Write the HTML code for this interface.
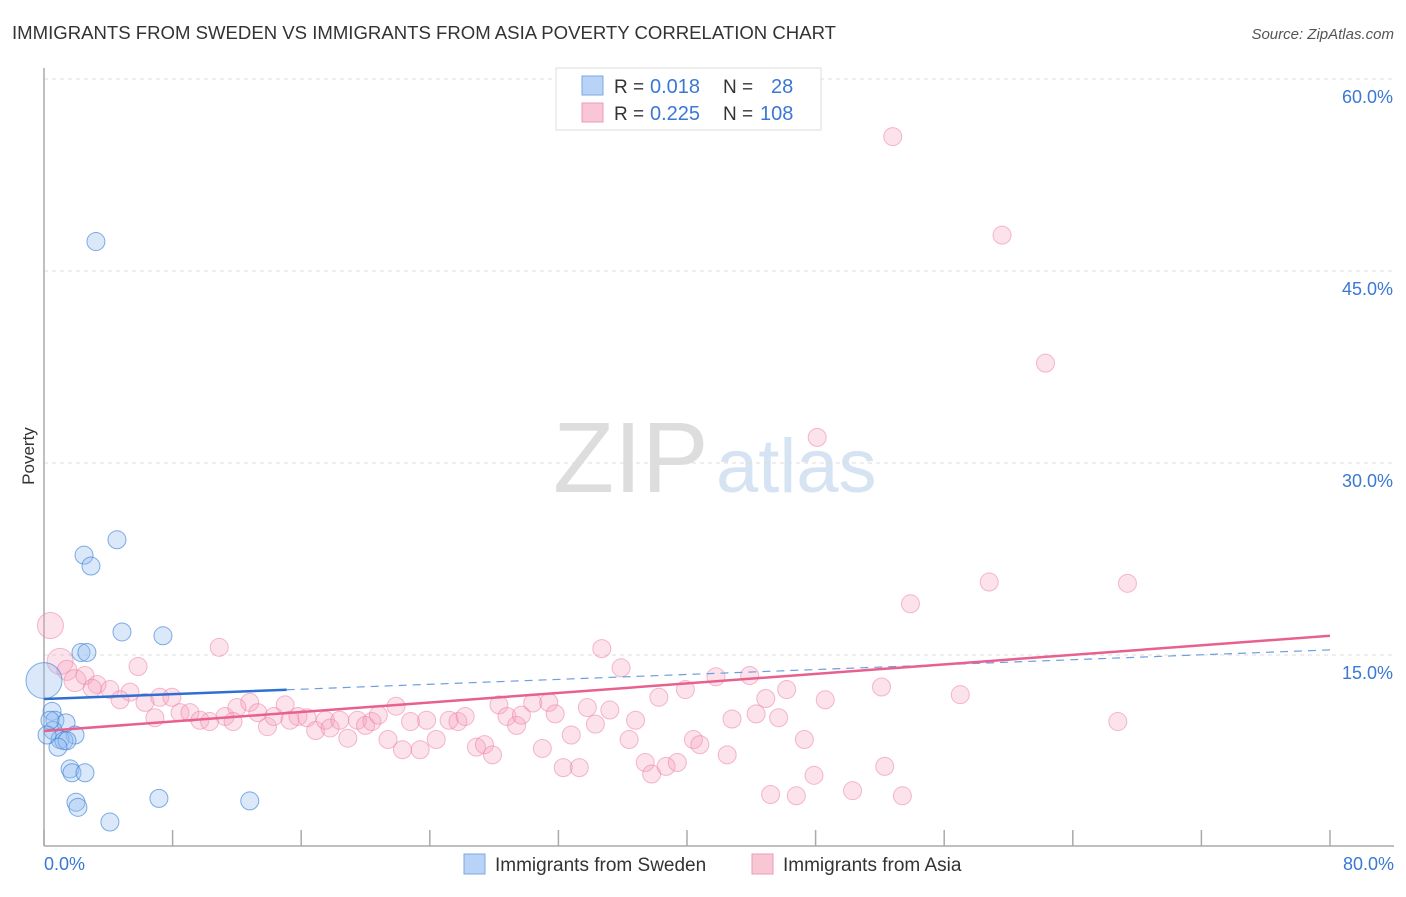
<!DOCTYPE html>
<html><head><meta charset="utf-8"><style>
body{margin:0;background:#fff;font-family:"Liberation Sans",sans-serif;}
svg text{font-family:"Liberation Sans",sans-serif;}
</style></head><body>
<svg id="chart" width="1406" height="892" viewBox="0 0 1406 892">
<text x="12" y="39" font-size="18" fill="#333" textLength="824" lengthAdjust="spacingAndGlyphs">IMMIGRANTS FROM SWEDEN VS IMMIGRANTS FROM ASIA POVERTY CORRELATION CHART</text>
<text x="1394" y="39" font-size="15" fill="#555" font-style="italic" text-anchor="end">Source: ZipAtlas.com</text>
<g>
<text x="553" y="492" font-size="100" fill="#ddd" font-family="Liberation Serif, serif">ZIP</text>
<text x="716" y="492" font-size="76" fill="#d5e3f3">atlas</text>
</g>
<g id="grid"></g>
<g id="axes"></g>
<g id="pts"></g>
<g id="trends"></g>
<text x="34" y="456" font-size="17" fill="#333" transform="rotate(-90 34 456)" text-anchor="middle">Poverty</text>
<text x="44" y="870" font-size="18" fill="#3a78d4">0.0%</text>
<text x="1394" y="870" font-size="18" fill="#3a78d4" text-anchor="end">80.0%</text>
<g>
<rect x="556" y="68" width="265" height="62" fill="#fff" stroke="#ddd"/>
<rect x="582" y="76" width="21" height="19" fill="#b8d3f5" stroke="#7aa8e6"/>
<rect x="582" y="103" width="21" height="19" fill="#f9c6d6" stroke="#ee9ab5"/>
<text x="614" y="93" font-size="19" fill="#333">R = <tspan x="650" fill="#3a78d4" font-size="20">0.018</tspan><tspan x="723">N = </tspan><tspan x="771" fill="#3a78d4" font-size="20">28</tspan></text>
<text x="614" y="120" font-size="19" fill="#333">R = <tspan x="650" fill="#3a78d4" font-size="20">0.225</tspan><tspan x="723">N = </tspan><tspan x="760" fill="#3a78d4" font-size="20">108</tspan></text>
</g>
<g>
<rect x="464" y="854" width="21" height="20" fill="#b8d3f5" stroke="#7aa8e6"/>
<text x="495" y="871" font-size="19" fill="#333">Immigrants from Sweden</text>
<rect x="752" y="854" width="21" height="20" fill="#f9c6d6" stroke="#ee9ab5"/>
<text x="783" y="871" font-size="19" fill="#333">Immigrants from Asia</text>
</g>
</svg>
<script>
const yTicks=[15,30,45,60];
const yTickLabels=["15.0%","30.0%","45.0%","60.0%"];
const xTicks=[0,8,16,24,32,40,48,56,64,72,80];
const swedenX=[3.23,4.54,2.49,2.92,4.85,7.40,2.30,2.67,0.0,0.5,0.68,1.37,0.56,1.93,1.0,1.24,1.43,0.87,1.62,1.74,2.55,1.99,2.11,7.15,12.8,4.1,0.37,0.19];
const swedenY=[47.3,24.0,22.8,21.95,16.8,16.5,15.2,15.2,13.0,10.6,9.9,9.7,9.1,8.75,8.4,8.3,8.3,7.8,6.1,5.8,5.8,3.5,3.1,3.8,3.6,1.95,9.9,8.75];
const swedenR=[9,9,9,9,9,9,9,9,18,9,9,9,9,9,9,9,9,9,9,9,9,9,9,9,9,9,9,9];
const asiaX=[52.8,59.6,62.3,48.1,58.8,67.4,53.9,0.4,34.7,10.9,5.85,1.0,1.43,1.93,2.55,3.3,4.1,3.0,5.35,4.73,6.28,7.2,7.96,6.9,8.46,9.08,9.7,10.3,11.26,12.0,11.76,12.8,13.3,13.9,14.3,15.0,15.3,15.8,16.36,16.9,17.5,17.8,18.4,18.9,19.5,20.0,20.4,20.8,21.4,21.9,22.3,22.8,23.4,23.8,24.4,25.2,25.75,26.2,26.9,27.4,27.9,28.3,28.8,29.4,29.7,30.4,31.0,31.4,31.8,32.3,32.8,33.3,33.8,34.3,35.2,35.9,36.4,36.8,37.4,37.8,38.25,38.7,39.4,39.9,40.4,40.8,41.8,42.5,42.8,43.9,44.3,44.9,45.2,45.7,46.2,46.8,47.3,47.9,48.6,50.3,52.1,52.3,53.4,57.0,66.8];
const asiaY=[55.5,47.8,37.8,32.0,20.7,20.6,19.0,17.3,15.5,15.6,14.1,14.5,13.8,13.0,13.4,12.7,12.3,12.4,12.1,11.5,11.3,11.7,11.7,10.1,10.5,10.5,9.9,9.8,10.2,10.9,9.8,11.3,10.5,9.4,10.2,11.1,9.9,10.2,10.1,9.1,9.9,9.3,9.9,8.5,9.9,9.5,9.8,10.3,8.4,11.0,7.6,9.8,7.6,9.9,8.4,9.9,9.8,10.2,7.8,8.0,7.2,11.1,10.2,9.5,10.3,11.25,7.7,11.3,10.4,6.2,8.75,6.2,10.9,9.6,10.7,14.0,8.4,9.9,6.6,5.7,11.7,6.3,6.6,12.3,8.4,8.0,13.3,7.2,10.0,13.4,10.4,11.6,4.1,10.1,12.3,4.0,8.4,5.6,11.5,4.4,12.5,6.3,4.0,11.9,9.8];
const asiaBig={7:13,11:13,12:10,13:11};
const swedenTrend=[11.56,15.4];
const swedenSolidEnd=15.1;
const asiaTrend=[9.06,16.5];

const NS="http://www.w3.org/2000/svg";
const X0=44,X1=1330,Y0=847,PX_PER=12.8;
const sx=v=>X0+(v/80)*(X1-X0);
const sy=v=>Y0-v*PX_PER;
function mk(tag,attrs,parent){const e=document.createElementNS(NS,tag);for(const k in attrs)e.setAttribute(k,attrs[k]);parent.appendChild(e);return e;}
const grid=document.getElementById('grid'),axes=document.getElementById('axes'),pts=document.getElementById('pts'),tr=document.getElementById('trends');
yTicks.forEach((t,i)=>{
 const l=mk('line',{x1:44,x2:1394,y1:sy(t),y2:sy(t),stroke:'#ddd','stroke-dasharray':'4,4'},grid);
 
 
 const tx=mk('text',{x:1393,y:sy(t)+24,'font-size':18,fill:'#3a78d4','text-anchor':'end'},grid);
 tx.textContent=yTickLabels[i];
 
 
});
const gridTop=mk('line',{x1:44,x2:1394,y1:79,y2:79,stroke:'#ddd','stroke-dasharray':'4,4'},grid);


const ya=mk('line',{x1:44,x2:44,y1:68,y2:846,stroke:'#aaa','stroke-width':1.5},axes);


const xa=mk('line',{x1:44,x2:1394,y1:846,y2:846,stroke:'#aaa','stroke-width':1.5},axes);


xTicks.forEach(t=>{
 const l=mk('line',{x1:sx(t),x2:sx(t),y1:830,y2:846,stroke:'#aaa','stroke-width':1.5},axes);
 
 
});
asiaX.forEach((x,i)=>{
 const c=mk('circle',{cx:sx(x),cy:sy(asiaY[i]),r:asiaBig[i]||9,fill:'rgba(246,160,190,0.3)',stroke:'rgba(236,130,165,0.55)','stroke-width':1},pts);
 
 
});
swedenX.forEach((x,i)=>{
 const c=mk('circle',{cx:sx(x),cy:sy(swedenY[i]),r:swedenR[i],fill:'rgba(150,190,240,0.35)',stroke:'rgba(60,130,215,0.65)','stroke-width':1},pts);
 
 
});
const bs=x=>swedenTrend[0]+(swedenTrend[1]-swedenTrend[0])*x/80;
const b1=mk('line',{x1:sx(0),y1:sy(bs(0)),x2:sx(swedenSolidEnd),y2:sy(bs(swedenSolidEnd)),stroke:'#2f6fd0','stroke-width':2.5},tr);


const b2=mk('line',{x1:sx(swedenSolidEnd),y1:sy(bs(swedenSolidEnd)),x2:sx(80),y2:sy(bs(80)),stroke:'#6f9ee0','stroke-width':1.2,'stroke-dasharray':'8,6'},tr);


const p=mk('line',{x1:sx(0),y1:sy(asiaTrend[0]),x2:sx(80),y2:sy(asiaTrend[1]),stroke:'#e8608e','stroke-width':2.5},tr);


</script>
</body></html>
